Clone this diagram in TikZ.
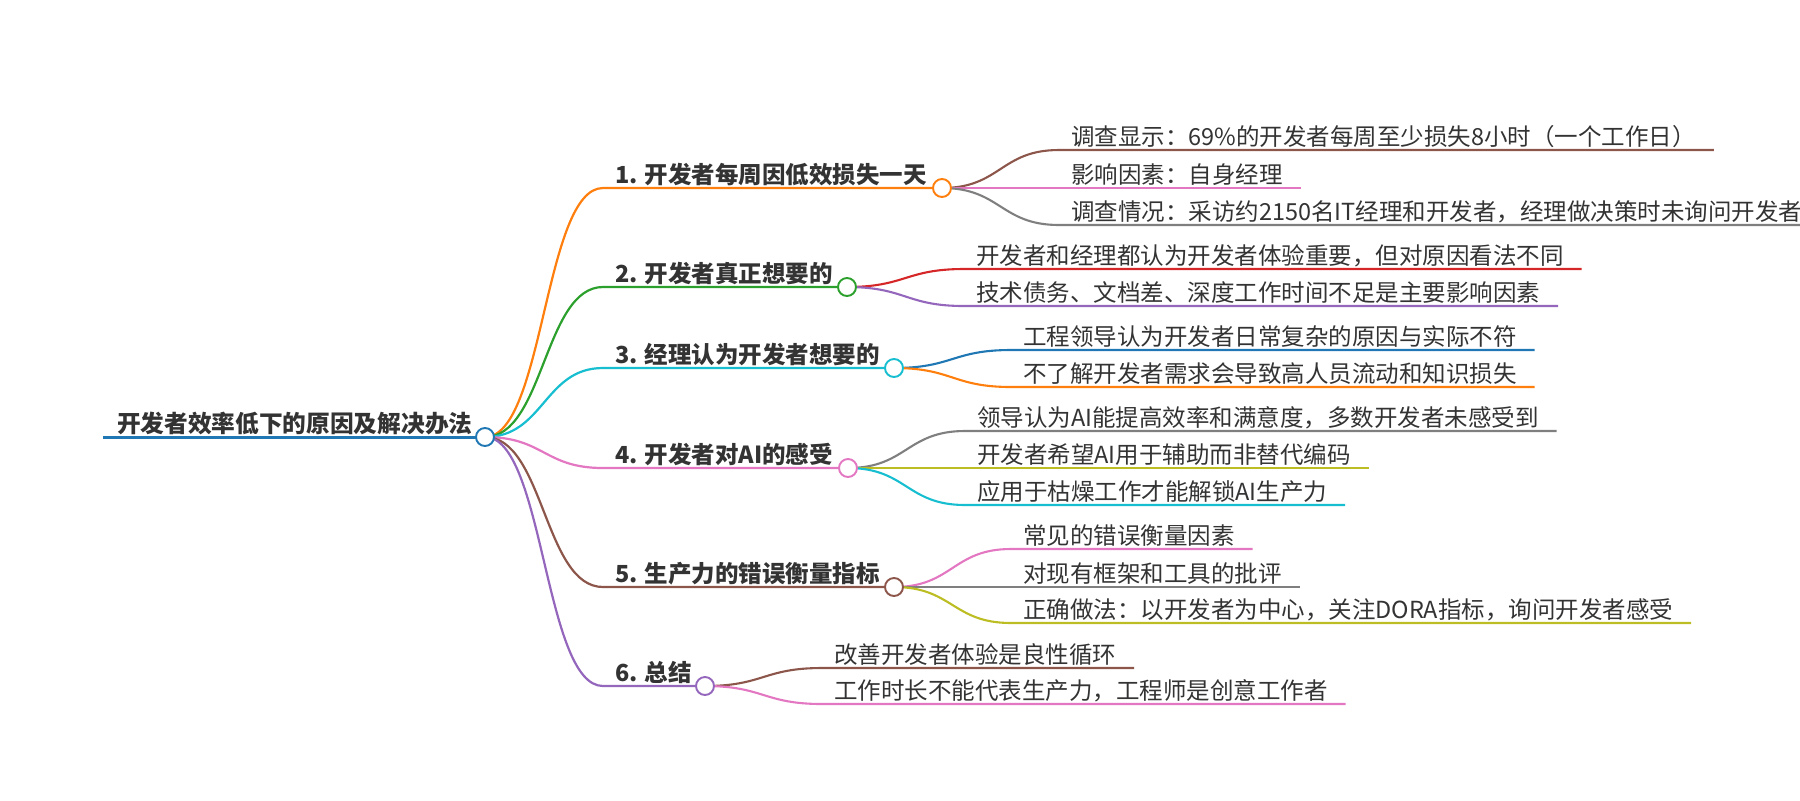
\documentclass[tikz,border=0pt]{standalone}
\usepackage{fontspec}
\setmainfont{Noto Sans CJK SC}
\usetikzlibrary{calc}
\pgfdeclarelayer{bg}
\pgfsetlayers{bg,main}
\definecolor{cBlue}{HTML}{1F77B4}
\definecolor{cOrange}{HTML}{FF7F0E}
\definecolor{cGreen}{HTML}{2CA02C}
\definecolor{cRed}{HTML}{D62728}
\definecolor{cPurple}{HTML}{9467BD}
\definecolor{cBrown}{HTML}{8C564B}
\definecolor{cPink}{HTML}{E377C2}
\definecolor{cGray}{HTML}{7F7F7F}
\definecolor{cOlive}{HTML}{BCBD22}
\definecolor{cCyan}{HTML}{17BECF}
\definecolor{textgray}{HTML}{333333}
\tikzset{
  mmlink/.style={to path={let \p1=(\tikztostart), \p2=(\tikztotarget) in
     .. controls ({0.5*\x1+0.5*\x2},\y1) and ({0.5*\x1+0.5*\x2},\y2) .. (\tikztotarget)}},
  basetext/.style={anchor=base west, inner sep=0pt, outer sep=0pt, text=textgray},
  roottext/.style={basetext, font=\fontsize{11.85pt}{14pt}\selectfont\bfseries},
  branchtext/.style={basetext, font=\fontsize{11.75pt}{14pt}\selectfont\bfseries},
  leaftext/.style={basetext, font=\fontsize{11.75pt}{14pt}\selectfont},
  dot/.style={circle, fill=white, line width=0.95pt, minimum size=9pt, inner sep=0pt},
  rootline/.style={line width=1.5pt, cBlue},
  branchline/.style={line width=1.1pt},
  leafline/.style={line width=1.05pt},
}
\begin{document}
\begin{tikzpicture}[x=0.5pt,y=-0.5pt]
\useasboundingbox (0,0) rectangle (1800,800);

% root
\coordinate (root-s) at (103,437);
\node[roottext] (root) at (117,432) {开发者效率低下的原因及解决办法};
\node[dot, draw=cBlue] (root-c) at (485,437) {};

% branch 1
\coordinate (b1-s) at (603,188);
\node[branchtext] (b1) at (615,183) {1. 开发者每周因低效损失一天};
\node[dot, draw=cOrange] (b1-c) at (942,188) {};
\coordinate (l11-s) at (1059,150);
\node[leaftext] (l11) at (1071,145) {调查显示：69\%的开发者每周至少损失8小时（一个工作日）};
\coordinate (l11-e) at ($(l11.base east)+(18,5)$);
\coordinate (l12-s) at (1059,188);
\node[leaftext] (l12) at (1071,183) {影响因素：自身经理};
\coordinate (l12-e) at ($(l12.base east)+(18,5)$);
\coordinate (l13-s) at (1059,225);
\node[leaftext] (l13) at (1071,220) {调查情况：采访约2150名IT经理和开发者，经理做决策时未询问开发者};
\coordinate (l13-e) at ($(l13.base east)+(18,5)$);

% branch 2
\coordinate (b2-s) at (603,287);
\node[branchtext] (b2) at (615,282) {2. 开发者真正想要的};
\node[dot, draw=cGreen] (b2-c) at (847,287) {};
\coordinate (l21-s) at (964,269);
\node[leaftext] (l21) at (976,264) {开发者和经理都认为开发者体验重要，但对原因看法不同};
\coordinate (l21-e) at ($(l21.base east)+(18,5)$);
\coordinate (l22-s) at (964,306);
\node[leaftext] (l22) at (976,301) {技术债务、文档差、深度工作时间不足是主要影响因素};
\coordinate (l22-e) at ($(l22.base east)+(18,5)$);

% branch 3
\coordinate (b3-s) at (603,368);
\node[branchtext] (b3) at (615,363) {3. 经理认为开发者想要的};
\node[dot, draw=cCyan] (b3-c) at (894,368) {};
\coordinate (l31-s) at (1011,350);
\node[leaftext] (l31) at (1023,345) {工程领导认为开发者日常复杂的原因与实际不符};
\coordinate (l31-e) at ($(l31.base east)+(18,5)$);
\coordinate (l32-s) at (1011,387);
\node[leaftext] (l32) at (1023,382) {不了解开发者需求会导致高人员流动和知识损失};
\coordinate (l32-e) at ($(l32.base east)+(18,5)$);

% branch 4
\coordinate (b4-s) at (603,468);
\node[branchtext] (b4) at (615,463) {4. 开发者对AI的感受};
\node[dot, draw=cPink] (b4-c) at (848,468) {};
\coordinate (l41-s) at (965,431);
\node[leaftext] (l41) at (977,426) {领导认为AI能提高效率和满意度，多数开发者未感受到};
\coordinate (l41-e) at ($(l41.base east)+(18,5)$);
\coordinate (l42-s) at (965,468);
\node[leaftext] (l42) at (977,463) {开发者希望AI用于辅助而非替代编码};
\coordinate (l42-e) at ($(l42.base east)+(18,5)$);
\coordinate (l43-s) at (965,505);
\node[leaftext] (l43) at (977,500) {应用于枯燥工作才能解锁AI生产力};
\coordinate (l43-e) at ($(l43.base east)+(18,5)$);

% branch 5
\coordinate (b5-s) at (603,587);
\node[branchtext] (b5) at (615,582) {5. 生产力的错误衡量指标};
\node[dot, draw=cBrown] (b5-c) at (894,587) {};
\coordinate (l51-s) at (1011,549);
\node[leaftext] (l51) at (1023,544) {常见的错误衡量因素};
\coordinate (l51-e) at ($(l51.base east)+(18,5)$);
\coordinate (l52-s) at (1011,587);
\node[leaftext] (l52) at (1023,582) {对现有框架和工具的批评};
\coordinate (l52-e) at ($(l52.base east)+(18,5)$);
\coordinate (l53-s) at (1011,623);
\node[leaftext] (l53) at (1023,618) {正确做法：以开发者为中心，关注DORA指标，询问开发者感受};
\coordinate (l53-e) at ($(l53.base east)+(18,5)$);

% branch 6
\coordinate (b6-s) at (603,686);
\node[branchtext] (b6) at (615,681) {6. 总结};
\node[dot, draw=cPurple] (b6-c) at (705,686) {};
\coordinate (l61-s) at (822,668);
\node[leaftext] (l61) at (834,663) {改善开发者体验是良性循环};
\coordinate (l61-e) at ($(l61.base east)+(18,5)$);
\coordinate (l62-s) at (822,704);
\node[leaftext] (l62) at (834,699) {工作时长不能代表生产力，工程师是创意工作者};
\coordinate (l62-e) at ($(l62.base east)+(18,5)$);

\begin{pgfonlayer}{bg}
\draw[rootline] (root-s) -- (root-c.center);
\draw[branchline, cOrange] (root-c.center) to[mmlink] (b1-s) -- (b1-c.center);
\draw[branchline, cGreen]  (root-c.center) to[mmlink] (b2-s) -- (b2-c.center);
\draw[branchline, cCyan]   (root-c.center) to[mmlink] (b3-s) -- (b3-c.center);
\draw[branchline, cPink]   (root-c.center) to[mmlink] (b4-s) -- (b4-c.center);
\draw[branchline, cBrown]  (root-c.center) to[mmlink] (b5-s) -- (b5-c.center);
\draw[branchline, cPurple] (root-c.center) to[mmlink] (b6-s) -- (b6-c.center);

\draw[leafline, cBrown] (b1-c.center) to[mmlink] (l11-s) -- (l11-e);
\draw[leafline, cPink]  (b1-c.center) to[mmlink] (l12-s) -- (l12-e);
\draw[leafline, cGray]  (b1-c.center) to[mmlink] (l13-s) -- (l13-e);

\draw[leafline, cRed]    (b2-c.center) to[mmlink] (l21-s) -- (l21-e);
\draw[leafline, cPurple] (b2-c.center) to[mmlink] (l22-s) -- (l22-e);

\draw[leafline, cBlue]   (b3-c.center) to[mmlink] (l31-s) -- (l31-e);
\draw[leafline, cOrange] (b3-c.center) to[mmlink] (l32-s) -- (l32-e);

\draw[leafline, cGray]  (b4-c.center) to[mmlink] (l41-s) -- (l41-e);
\draw[leafline, cOlive] (b4-c.center) to[mmlink] (l42-s) -- (l42-e);
\draw[leafline, cCyan]  (b4-c.center) to[mmlink] (l43-s) -- (l43-e);

\draw[leafline, cPink]  (b5-c.center) to[mmlink] (l51-s) -- (l51-e);
\draw[leafline, cGray]  (b5-c.center) to[mmlink] (l52-s) -- (l52-e);
\draw[leafline, cOlive] (b5-c.center) to[mmlink] (l53-s) -- (l53-e);

\draw[leafline, cBrown] (b6-c.center) to[mmlink] (l61-s) -- (l61-e);
\draw[leafline, cPink]  (b6-c.center) to[mmlink] (l62-s) -- (l62-e);
\end{pgfonlayer}
\end{tikzpicture}
\end{document}
